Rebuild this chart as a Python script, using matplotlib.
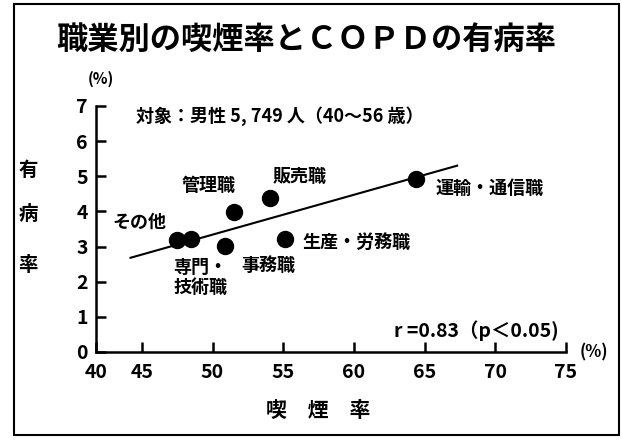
import numpy as np
import matplotlib
matplotlib.use("Agg")
import matplotlib.pyplot as plt
from matplotlib.patches import Rectangle

plt.rcParams['font.family'] = ['Noto Sans CJK JP', 'DejaVu Sans']
plt.rcParams['font.weight'] = 'bold'

# dane
occupations = ['その他', '専門・\n技術職', '事務職', '管理職', '販売職', '生産・労務職', '運輸・通信職']
smoking_rate = [47.5, 48.5, 50.9, 51.5, 54.1, 55.1, 64.4]
copd_rate = [3.19, 3.22, 3.02, 3.99, 4.39, 3.22, 4.93]

# linia regresji (koncowki)
fit_x = [44.2, 67.3]
fit_y = [2.68, 5.30]

x_ticks = [45, 50, 55, 60, 65, 70, 75]
x_tick_labels = ['45', '50', '55', '60', '65', '70', '75']
y_ticks = [0, 1, 2, 3, 4, 5, 6, 7]

# os x jest skrocona miedzy 40 a 45
X_ORIGIN = 41.76

# przesuniecia etykiet w punktach (dx, dy, wyrownanie)
LABEL_OFFSETS = [(-27, 13, 'center'), (-13, -28, 'left'), (31, -14, 'center'),
                 (-18, 19, 'center'), (21, 15, 'center'), (13, -3, 'left'),
                 (14, -7, 'left')]

FONT_SIZE = 14

fig = plt.figure(figsize=(6.21, 4.45), dpi=100)
ax = fig.add_axes([0.1546, 0.209, 0.7568, 0.553])

ax.plot(fit_x, fit_y, 'k-', lw=1.5)
ax.plot(smoking_rate, copd_rate, 'ko', markersize=11.5)

for name, x, y, (dx, dy, ha) in zip(occupations, smoking_rate, copd_rate, LABEL_OFFSETS):
    ax.annotate(name, (x, y), xytext=(dx, dy), textcoords='offset points',
                ha=ha, va='center', fontsize=13, fontweight='bold',
                linespacing=1.05)

ax.set_xlim(X_ORIGIN, 75)
ax.set_ylim(0, 7)
ax.set_xticks([X_ORIGIN] + x_ticks)
ax.set_xticklabels(['40'] + x_tick_labels)
ax.set_yticks(y_ticks)
ax.tick_params(direction='in', length=7, width=1.8, labelsize=FONT_SIZE, pad=6)
ax.tick_params(axis='x', pad=8)
for lab in ax.get_xticklabels() + ax.get_yticklabels():
    lab.set_fontweight('bold')

for s in ['top', 'right']:
    ax.spines[s].set_visible(False)
for s in ['left', 'bottom']:
    ax.spines[s].set_linewidth(1.8)

ax.text(0.085, 0.96, '対象：男性 5, 749 人（40〜56 歳）', transform=ax.transAxes,
        fontsize=13, fontweight='bold', va='center')
ax.text(0.985, 0.085, 'r =0.83（p＜0.05)', transform=ax.transAxes,
        fontsize=14, fontweight='bold', ha='right', va='center')
ax.text(0.01, 1.11, '(%)', transform=ax.transAxes, fontsize=11,
        fontweight='bold', ha='center', va='center')
ax.text(1.06, 0.0, '(%)', transform=ax.transAxes, fontsize=12,
        fontweight='bold', ha='center', va='center')

fig.text(0.493, 0.91, '職業別の喫煙率とＣＯＰＤの有病率', fontsize=22.5,
         fontweight='bold', ha='center', va='center')
for ch, yy in zip('有病率', [0.618, 0.517, 0.404]):
    fig.text(0.045, yy, ch, fontsize=14, fontweight='bold', ha='center', va='center')
fig.text(0.512, 0.078, '喫　煙　率', fontsize=15, fontweight='bold',
         ha='center', va='center')

fig.patches.append(Rectangle((0.0225, 0.0225), 0.974, 0.9685, transform=fig.transFigure,
                             fill=False, lw=1.5, color='black'))

fig.savefig('out.png', dpi=100)
